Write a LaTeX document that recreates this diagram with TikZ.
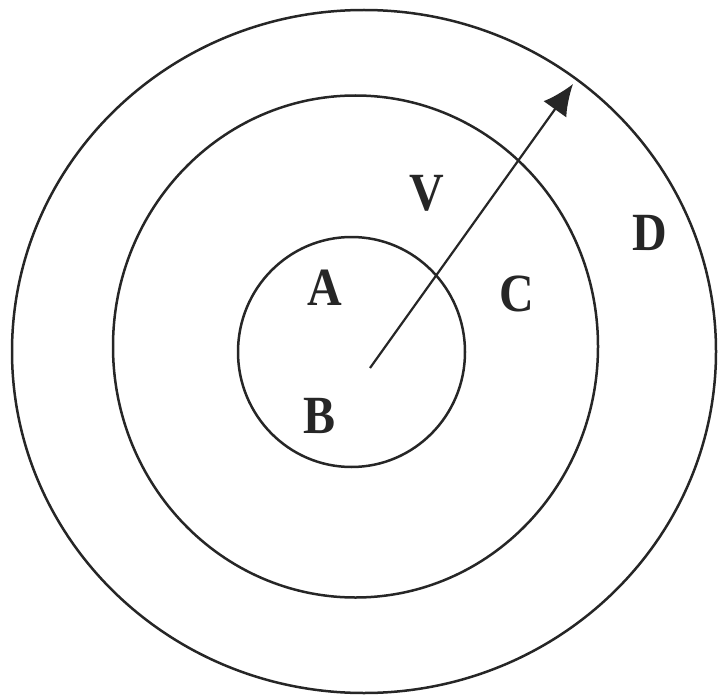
\documentclass[tikz,border=0pt]{standalone}
\usepackage{fontspec}
\setmainfont{Liberation Serif}
\usetikzlibrary{arrows.meta}
\tikzset{
  ring/.style={draw=black!85, line width=2.5pt},
  lbl/.style={anchor=base, inner sep=0pt, font=\fontsize{48}{48}\selectfont\bfseries, text=black!85},
  vec/.style={draw=black!85, line width=2.2pt, -{Latex[length=31pt,width=28pt]}}
}
\newcommand{\tallcap}[1]{\scalebox{1}[1.12]{#1}}
\begin{document}
\begin{tikzpicture}[x=1pt,y=-1pt]
\useasboundingbox (0,0) rectangle (720,698);
% circles
\draw[ring] (364,351.5) ellipse [x radius=352, y radius=341.5];
\draw[ring] (355.5,346.5) ellipse [x radius=242.5, y radius=251];
\draw[ring] (351.5,352) ellipse [x radius=113.5, y radius=115];
% vector
\coordinate (o) at (370,368);
\coordinate (tip) at (573,84);
\draw[vec] (o) -- (tip);
% labels
\node[lbl] (A) at (325,305) {\tallcap{A}};
\node[lbl] (B) at (320,433) {\tallcap{B}};
\node[lbl] (V) at (427,210) {\tallcap{V}};
\node[lbl] (C) at (517,311) {\tallcap{C}};
\node[lbl] (D) at (650,250) {\tallcap{D}};
\end{tikzpicture}
\end{document}
